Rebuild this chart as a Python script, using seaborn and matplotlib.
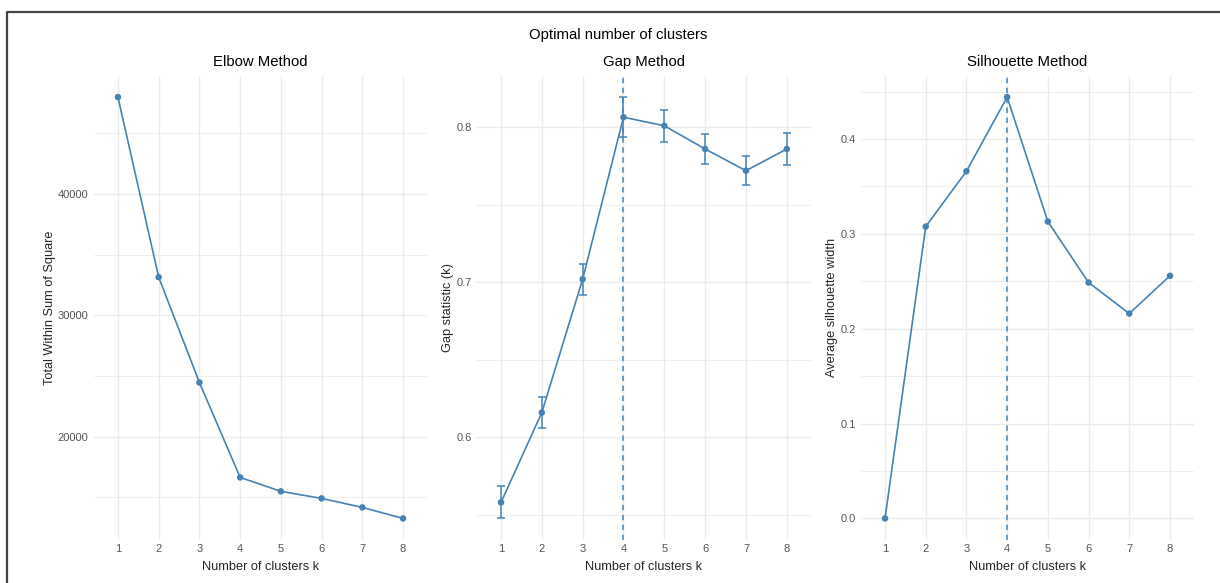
import matplotlib
matplotlib.use("Agg")
import matplotlib.pyplot as plt
from matplotlib.lines import Line2D
from matplotlib.ticker import MultipleLocator
import numpy as np
import pandas as pd
import seaborn as sns

# Cluster counts evaluated
k_values = [1, 2, 3, 4, 5, 6, 7, 8]
k_labels = ["1", "2", "3", "4", "5", "6", "7", "8"]

# Total within-cluster sum of squares
wss = [47980, 33150, 24470, 16650, 15500, 14920, 14180, 13270]

# Gap statistic and its standard error
gap = [0.558, 0.616, 0.702, 0.8065, 0.801, 0.786, 0.772, 0.786]
gap_se = [0.0103, 0.0098, 0.0100, 0.013, 0.0103, 0.0097, 0.0095, 0.0100]

# Average silhouette width
silhouette = [0.0, 0.3077, 0.366, 0.4442, 0.313, 0.2487, 0.216, 0.2558]

optimal_k = 4

df = pd.DataFrame({"k": k_values, "wss": wss, "gap": gap,
                   "gap_se": gap_se, "sil": silhouette})

sns.set_theme(style="white")
plt.rcParams["font.family"] = ["Liberation Sans", "DejaVu Sans"]

LINE = "#4682B4"
GRID = "#EBEBEB"
TICK = "#555555"

W, H = 1220, 583
fig = plt.figure(figsize=(W / 100, H / 100), dpi=100)

bottom = 1 - 539.5 / H
top = 1 - 76 / H
panels = [(93.5, 427.5), (476.5, 811.3), (860.6, 1194.4)]
axes = [fig.add_axes([l / W, bottom, (r - l) / W, top - bottom]) for l, r in panels]


def style_axis(ax, title, ylabel, major, minor):
    ax.set_xlim(0.4, 8.6)
    ax.set_xticks(k_values)
    ax.set_xticklabels(k_labels)
    ax.yaxis.set_major_locator(MultipleLocator(major))
    ax.yaxis.set_minor_locator(MultipleLocator(minor))
    ax.grid(True, which="major", color=GRID, lw=1.0, zorder=0)
    ax.grid(True, which="minor", axis="y", color=GRID, lw=0.6, zorder=0)
    ax.set_axisbelow(True)
    for s in ax.spines.values():
        s.set_visible(False)
    ax.tick_params(axis="both", which="both", length=0, labelsize=8,
                   labelcolor=TICK, pad=3.5)
    ax.set_title(title, fontsize=10.7, pad=7, color="black")
    ax.set_xlabel("Number of clusters k", fontsize=9.2, labelpad=4.5)
    ax.set_ylabel(ylabel, fontsize=9.2, labelpad=1.5)


# Elbow method
ax = axes[0]
sns.lineplot(data=df, x="k", y="wss", ax=ax, color=LINE, lw=1.2, zorder=3)
sns.scatterplot(data=df, x="k", y="wss", ax=ax, color=LINE, s=22,
                edgecolor="none", zorder=4)
span = max(wss) - min(wss)
ax.set_ylim(min(wss) - 0.05 * span, max(wss) + 0.05 * span)
style_axis(ax, "Elbow Method", "Total Within Sum of Square", 10000, 5000)

# Gap statistic method
ax = axes[1]
lo = np.array(gap) - np.array(gap_se)
hi = np.array(gap) + np.array(gap_se)
ax.axvline(optimal_k, color=LINE, lw=1.1, ls=(0, (3.5, 3)), zorder=2)
ax.errorbar(df["k"], df["gap"], yerr=df["gap_se"], fmt="none", ecolor=LINE,
            elinewidth=1.1, capsize=3, capthick=1.1, zorder=3)
sns.lineplot(data=df, x="k", y="gap", ax=ax, color=LINE, lw=1.2, zorder=3)
sns.scatterplot(data=df, x="k", y="gap", ax=ax, color=LINE, s=22,
                edgecolor="none", zorder=4)
span = hi.max() - lo.min()
ax.set_ylim(lo.min() - 0.05 * span, hi.max() + 0.05 * span)
style_axis(ax, "Gap Method", "Gap statistic (k)", 0.1, 0.05)

# Silhouette method
ax = axes[2]
ax.axvline(optimal_k, color=LINE, lw=1.1, ls=(0, (3.5, 3)), zorder=2)
sns.lineplot(data=df, x="k", y="sil", ax=ax, color=LINE, lw=1.2, zorder=3)
sns.scatterplot(data=df, x="k", y="sil", ax=ax, color=LINE, s=22,
                edgecolor="none", zorder=4)
span = max(silhouette) - min(silhouette)
ax.set_ylim(min(silhouette) - 0.05 * span, max(silhouette) + 0.05 * span)
style_axis(ax, "Silhouette Method", "Average silhouette width", 0.1, 0.05)

fig.text(618 / W, 1 - 35.5 / H, "Optimal number of clusters", ha="center",
         va="center", fontsize=10.7, color="black")

# Outer frame along the top and left edges
fig.add_artist(Line2D([7 / W, 7 / W, 1.0], [0.0, 1 - 12 / H, 1 - 12 / H],
                      transform=fig.transFigure, color="#444444", lw=1.6))

fig.savefig("out.png", dpi=100, facecolor="white")
